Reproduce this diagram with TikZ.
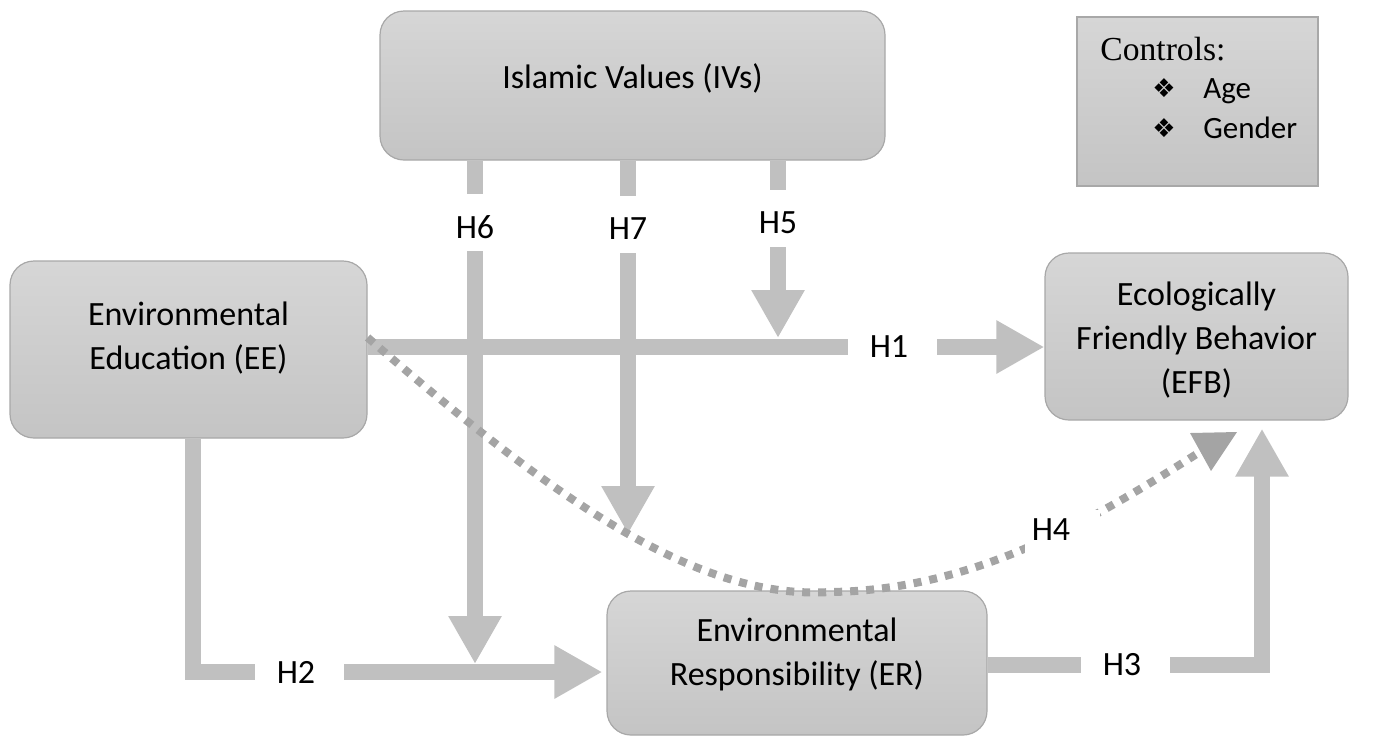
\documentclass[tikz,border=0pt]{standalone}
\usepackage{fontspec}
\setmainfont{Carlito}
\newfontfamily\ctrlfont{Liberation Serif}
\newfontfamily\symfont{DejaVu Sans}
\usetikzlibrary{arrows.meta,calc}
\definecolor{arrowgray}{HTML}{C0C0C0}
\definecolor{dotgray}{HTML}{A4A4A4}
\definecolor{boxtop}{HTML}{D6D6D6}
\definecolor{boxbot}{HTML}{C4C4C4}
\definecolor{boxline}{HTML}{A8A8A8}
\begin{document}
\begin{tikzpicture}[x=0.5pt,y=-0.5pt,
  box/.style={draw=boxline, line width=0.6pt, rounded corners=12pt, top color=boxtop, bottom color=boxbot, inner sep=0pt},
  ctrlbox/.style={draw=boxline, line width=0.6pt, top color=boxtop, bottom color=boxbot, inner sep=0pt},
  txt/.style={align=center, font=\fontsize{17}{22}\selectfont, inner sep=0pt},
  hlabel/.style={font=\fontsize{17}{20}\selectfont, inner sep=0pt},
  conn/.style={draw=arrowgray, line width=8pt},
  arr/.style={conn, arrowgray, -{Triangle[width=25pt,length=24pt]}},
  dotc/.style={draw=dotgray, line width=4pt, dash pattern=on 4pt off 4pt}
]
\useasboundingbox (0,0) rectangle (1384,736);

% boxes
\node[box, minimum width=252.5pt, minimum height=74.5pt] (iv) at (632.5,85.5) {};
\node[txt] at (632.5,78) {Islamic Values (IVs)};
\node[box, minimum width=178.5pt, minimum height=88.5pt] (ee) at (188.5,349.5) {};
\node[txt] at (188.5,338) {Environmental\\Education (EE)};
\node[box, minimum width=151.5pt, minimum height=83.5pt] (efb) at (1196.5,336.5) {};
\node[txt] at (1196.5,340) {Ecologically\\Friendly Behavior\\(EFB)};
\node[box, minimum width=190pt, minimum height=72pt] (er) at (797,663) {};
\node[txt] at (797,654) {Environmental\\Responsibility (ER)};

% controls
\node[ctrlbox, minimum width=120.5pt, minimum height=84.5pt] (ctrl) at (1197.5,101.5) {};
\node[anchor=base west, inner sep=0pt, font=\ctrlfont\fontsize{16.8}{20}\selectfont] (ctitle) at (1100,60) {Controls:};
\node[inner sep=0pt, font=\symfont\fontsize{13}{15}\selectfont] (b1) at (1164,88) {❖};
\node[inner sep=0pt, font=\symfont\fontsize{13}{15}\selectfont] (b2) at (1164,128) {❖};
\node[anchor=base west, inner sep=0pt, font=\fontsize{15.5}{18}\selectfont] (age) at (1203,98) {Age};
\node[anchor=base west, inner sep=0pt, font=\fontsize{15.5}{18}\selectfont] (gen) at (1203,138) {Gender};

% labels
\node[hlabel] (h6) at (475,227) {H6};
\node[hlabel] (h7) at (628,229) {H7};
\node[hlabel] (h5) at (778,223) {H5};
\node[hlabel] (h1) at (889,347) {H1};
\node[hlabel] (h2) at (296,672) {H2};
\node[hlabel] (h3) at (1122,665) {H3};

\coordinate (h6end) at ($(h6 |- h2)+(0,-8)$);
\coordinate (h5end) at ($(h5 |- h1)+(0,-9)$);
\coordinate (h7end) at (628,534);
\coordinate (h4end) at (1203,450);

% H1
\draw[conn] (ee.east |- h1) -- ([xshift=-20.5pt]h1.center);
\draw[arr] ([xshift=24pt]h1.center) -- (efb.west |- h1);
% H2
\draw[conn] ([xshift=2.25pt]ee.south) |- ([xshift=-20.75pt]h2.center);
\draw[arr] ([xshift=24pt]h2.center) -- ([xshift=-2pt]er.west |- h2);
% H3
\draw[conn] (er.east |- h3) -- ([xshift=-20.5pt]h3.center);
\draw[arr] ([xshift=24pt]h3.center) -| ([xshift=32.75pt,yshift=-4pt]efb.south);
% H6
\draw[conn] (iv.south -| h6) -- ([yshift=16.5pt]h6.center);
\draw[arr] ([yshift=-12pt]h6.center) -- (h6end);
% H7
\draw[conn] (iv.south -| h7) -- ([yshift=16.5pt]h7.center);
\draw[arr] ([yshift=-12pt]h7.center) -- (h7end);
% H5
\draw[conn] (iv.south -| h5) -- ([yshift=16.5pt]h5.center);
\draw[arr] ([yshift=-12pt]h5.center) -- (h5end);

% H4 dotted curve
\draw[dotc] ([yshift=6pt]ee.east) .. controls (560,505) and (700,600) .. (830,592) .. controls (980,590) and (1100,515) .. (h4end);
\fill[dotgray] (1190,433) -- (1237,432) -- (1211,471) -- cycle;
\node[fill=white, inner sep=0pt, minimum width=37.5pt, minimum height=22pt] (h4box) at (1062.5,532) {};
\node[hlabel] (h4) at (1051,530) {H4};
\end{tikzpicture}
\end{document}
